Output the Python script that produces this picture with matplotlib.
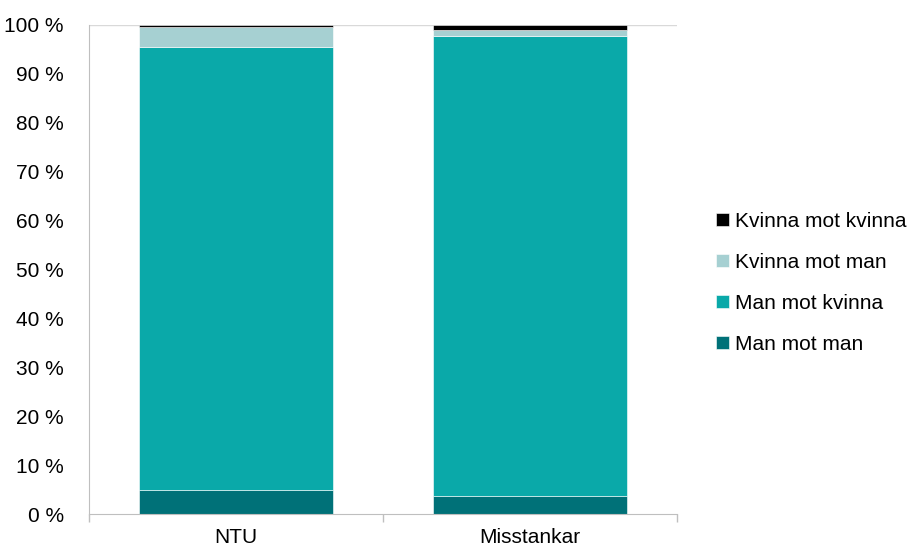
import numpy as np
import matplotlib.pyplot as plt

plt.rcParams['font.family'] = ['Liberation Sans', 'DejaVu Sans']

categories = ["NTU", "Misstankar"]
series_names = ["Man mot man", "Man mot kvinna", "Kvinna mot man", "Kvinna mot kvinna"]
man_mot_man = [5.0, 3.7]
man_mot_kvinna = [90.4, 94.1]
kvinna_mot_man = [4.1, 1.2]
kvinna_mot_kvinna = [0.5, 1.0]
colors = ["#007178", "#0AA9A9", "#A6D0D2", "#000000"]
yticks = np.arange(0, 101, 10)


def main():
    fig = plt.figure(figsize=(9.18, 5.5), dpi=100)
    ax = fig.add_axes([89 / 918, 36 / 550, 588 / 918, 489 / 550])
    x = np.arange(len(categories))
    bottom = np.zeros(len(categories))
    handles = []
    for name, vals, col in zip(series_names,
                               [man_mot_man, man_mot_kvinna, kvinna_mot_man, kvinna_mot_kvinna],
                               colors):
        b = ax.bar(x, vals, width=0.66, bottom=bottom, color=col, label=name,
                   edgecolor="white", linewidth=0.4)
        handles.append(b)
        bottom += np.array(vals)

    ax.set_xlim(-0.5, 1.5)
    ax.set_ylim(0, 100)
    ax.set_yticks(yticks)
    ax.set_yticklabels([f"{v} %" for v in yticks], fontsize=15)
    ax.tick_params(axis="y", length=0, pad=18)
    ax.set_xticks(x)
    ax.set_xticklabels(categories, fontsize=15)
    ax.tick_params(axis="x", length=0, pad=10)
    # category boundary tick marks
    ax.set_xticks([-0.5, 0.5, 1.5], minor=True)
    ax.tick_params(axis="x", which="minor", length=6, color="#BFBFBF", width=1)
    ax.axhline(100, color="#D9D9D9", linewidth=1, zorder=0)
    for s in ["top", "right"]:
        ax.spines[s].set_visible(False)
    for s in ["left", "bottom"]:
        ax.spines[s].set_color("#BFBFBF")

    fig.legend(handles[::-1], series_names[::-1], loc="center left",
               bbox_to_anchor=(708 / 918, 0.486), frameon=False, fontsize=15,
               handlelength=0.6, handleheight=0.6, handletextpad=0.3,
               labelspacing=1.05, borderaxespad=0)
    fig.savefig("out.png", dpi=100)


if __name__ == '__main__':
    main()
